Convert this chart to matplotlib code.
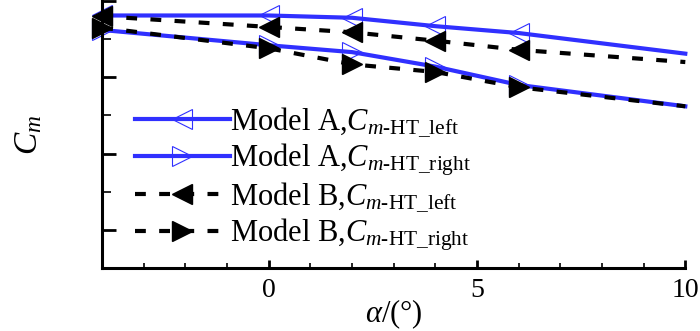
import numpy as np
import matplotlib.pyplot as plt
from matplotlib.ticker import MultipleLocator

plt.rcParams['font.family'] = ['Liberation Serif', 'DejaVu Serif']
plt.rcParams['mathtext.fontset'] = 'custom'
plt.rcParams['mathtext.rm'] = 'Liberation Serif'
plt.rcParams['mathtext.it'] = 'Liberation Serif:italic'

# 数据
alpha = [-4, 0, 2, 4, 6, 10]
a_left = [-0.019, -0.019, -0.022, -0.033, -0.042, -0.069]
a_right = [-0.038, -0.058, -0.067, -0.086, -0.110, -0.138]
b_left = [-0.020, -0.034, -0.041, -0.052, -0.064, -0.080]
b_right = [-0.035, -0.062, -0.083, -0.093, -0.113, -0.138]

blue = '#3030ff'
mk = [0, 1, 2, 3, 4]

fig = plt.figure(figsize=(7, 3.31), dpi=100)
ax = fig.add_axes([0.146, 0.190, 0.833, 0.807])

ax.plot(alpha, a_left, color=blue, lw=3, marker='<', ms=14, mfc='none',
        mec=blue, mew=0.8, markevery=mk, clip_on=False,
        label=r'Model A,$C_{m\text{-HT\_left}}$')
ax.plot(alpha, a_right, color=blue, lw=3, marker='>', ms=14, mfc='none',
        mec=blue, mew=0.8, markevery=mk, clip_on=False,
        label=r'Model A,$C_{m\text{-HT\_right}}$')
ax.plot(alpha, b_left, color='black', lw=3, ls=(0, (2.6, 3.2)), dash_capstyle='butt',
        marker='<', ms=14, markevery=mk, clip_on=False,
        label=r'Model B,$C_{m\text{-HT\_left}}$')
ax.plot(alpha, b_right, color='black', lw=3, ls=(0, (2.6, 3.2)), dash_capstyle='butt',
        marker='>', ms=14, markevery=mk, clip_on=False,
        label=r'Model B,$C_{m\text{-HT\_right}}$')

ax.set_xlim(-4, 10)
ax.set_ylim(-0.35, 0)
ax.xaxis.set_major_locator(MultipleLocator(5))
ax.xaxis.set_minor_locator(MultipleLocator(1))
ax.yaxis.set_major_locator(MultipleLocator(0.1))
ax.yaxis.set_minor_locator(MultipleLocator(0.05))
ax.set_yticklabels([])

for s in ['top', 'right']:
    ax.spines[s].set_visible(False)
for s in ['left', 'bottom']:
    ax.spines[s].set_linewidth(2.2)

ax.tick_params(axis='x', which='major', direction='in', length=6, width=2, labelsize=20, pad=7)
ax.tick_params(axis='x', which='minor', direction='in', length=3.6, width=1.2)
ax.tick_params(axis='y', which='major', direction='in', length=10, width=2)
ax.tick_params(axis='y', which='minor', direction='in', length=6.5, width=1.2)

ax.set_xlabel(r'$\alpha$/(°)', fontsize=22, labelpad=-4)
ax.set_ylabel(r'$C_m$', fontsize=24, labelpad=38)

ax.legend(loc='lower left', bbox_to_anchor=(0.035, 0.01), frameon=False, fontsize=22,
          handlelength=3.1, handletextpad=0.0, labelspacing=0.08, borderaxespad=0)

fig.savefig('out.png', dpi=100)
